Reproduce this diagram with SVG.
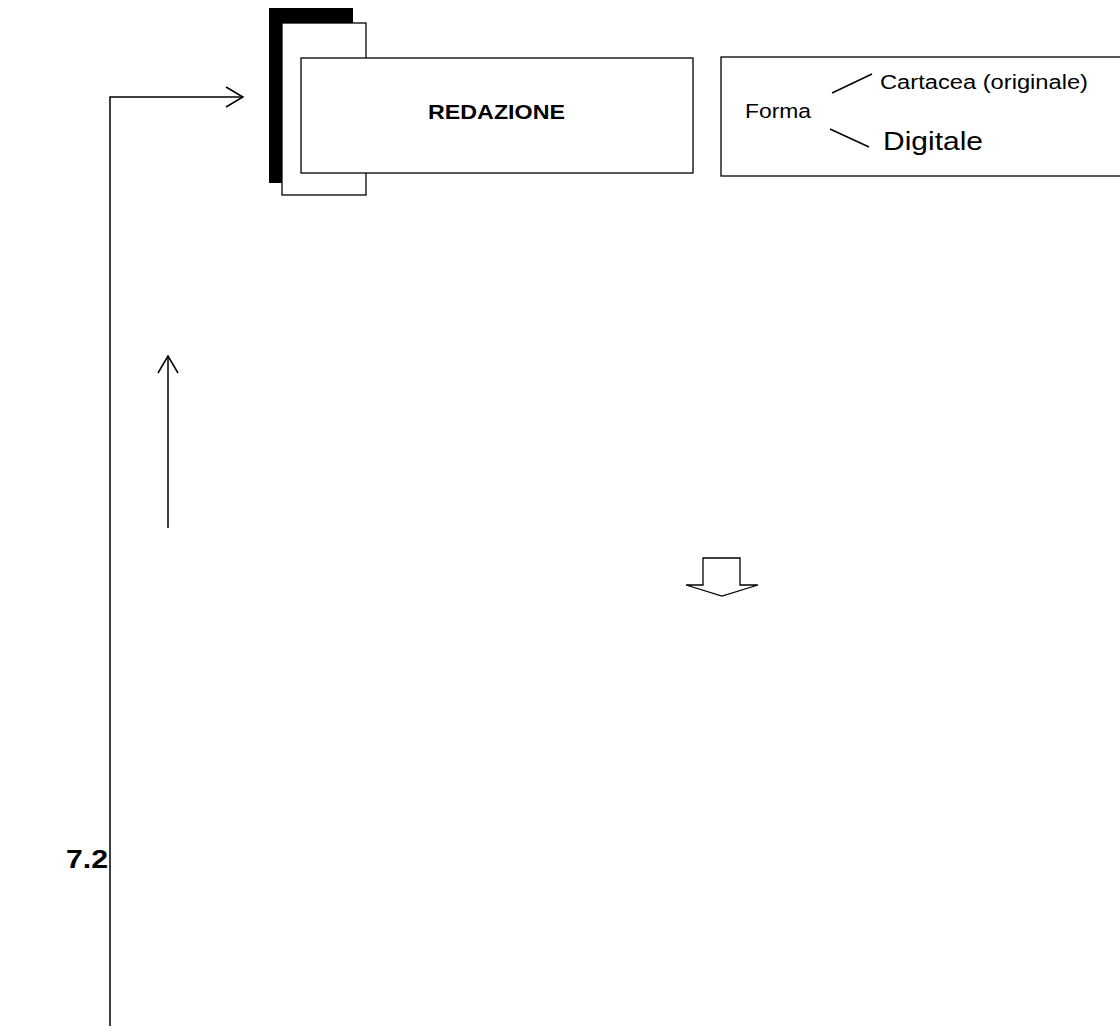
<svg xmlns="http://www.w3.org/2000/svg" width="1120" height="1034" viewBox="0 0 1120 1034">
<style>
  .box { fill: #ffffff; stroke: #000000; stroke-width: 1.3; }
  .ln { fill: none; stroke: #000000; stroke-width: 1.5; }
  .t { font-family: "Liberation Sans", Arial, sans-serif; fill: #000000; }
</style>
<rect width="1120" height="1034" fill="#ffffff"/>
<g id="connectors">
  <polyline class="ln" points="110,1026 110,97 243,97"/>
  <polyline class="ln" points="226,87 243,97 226,107"/>
  <line class="ln" x1="168" y1="528" x2="168" y2="356"/>
  <polyline class="ln" points="158,373 168,356 178,373"/>
  <polygon class="box" points="703,558 740,558 740,585 758,585 722,596 686,585 703,585"/>
</g>
<g id="redazione">
  <rect x="269" y="8" width="84" height="175" fill="#000000"/>
  <rect class="box" x="282" y="23" width="84" height="172"/>
  <rect class="box" x="301" y="58" width="392" height="115"/>
  <text class="t" x="428" y="119" font-size="20" font-weight="bold" textLength="137" lengthAdjust="spacingAndGlyphs">REDAZIONE</text>
</g>
<g id="forma">
  <rect class="box" x="721" y="57" width="410" height="119"/>
  <text class="t" x="745" y="118" font-size="20.5" textLength="66" lengthAdjust="spacingAndGlyphs">Forma</text>
  <line class="ln" x1="832" y1="93" x2="872" y2="74"/>
  <line class="ln" x1="830" y1="129" x2="869" y2="147"/>
  <text class="t" x="880" y="89" font-size="20" textLength="208" lengthAdjust="spacingAndGlyphs">Cartacea (originale)</text>
  <text class="t" x="883" y="150" font-size="26.5" textLength="100" lengthAdjust="spacingAndGlyphs">Digitale</text>
</g>
<g id="label">
  <text class="t" x="66" y="868" font-size="26" font-weight="bold" textLength="42" lengthAdjust="spacingAndGlyphs">7.2</text>
</g>
</svg>
